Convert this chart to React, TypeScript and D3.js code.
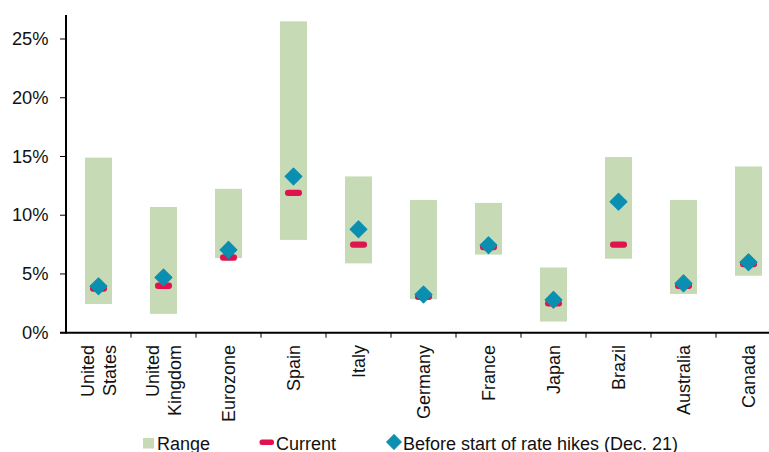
import React from "react";
import * as d3 from "d3";

const categories = [
  "United States", "United Kingdom", "Eurozone", "Spain", "Italy", "Germany",
  "France", "Japan", "Brazil", "Australia", "Canada",
];
const rangeLow = [2.45, 1.6, 6.35, 7.9, 5.9, 2.85, 6.65, 0.95, 6.3, 3.3, 4.85];
const rangeHigh = [14.9, 10.7, 12.25, 26.5, 13.3, 11.3, 11.05, 5.55, 14.95, 11.3, 14.15];
const current = [3.75, 4.0, 6.4, 11.9, 7.5, 3.05, 7.3, 2.5, 7.5, 4.0, 5.85];
const beforeHikes = [3.95, 4.7, 7.05, 13.3, 8.8, 3.25, 7.45, 2.8, 11.15, 4.2, 6.0];
const yTicks = [0, 5, 10, 15, 20, 25];
const legendLabels = ["Range", "Current", "Before start of rate hikes (Dec. 21)"];

const W = 769;
const H = 452;
const GREEN = "#c5dab5";
const RED = "#e0134f";
const TEAL = "#0b8fb0";
const FONT = "'Liberation Sans', Arial, sans-serif";

export default function App() {
  const pad = 1 - 27 / 65;
  const x = d3
    .scaleBand<string>()
    .domain(categories)
    .range([66, 781])
    .paddingInner(pad)
    .paddingOuter(pad / 2);
  const y = d3.scaleLinear().domain([0, 27]).range([332.7, 15.5]);
  const step = x.step();
  const bw = x.bandwidth();
  const diamond = d3.symbol().type(d3.symbolSquare).size(140)()!;
  const legDiamond = d3.symbol().type(d3.symbolSquare).size(110)()!;

  return (
    <svg
      width={W}
      height={H}
      style={{ position: "absolute", left: 0, top: 0, background: "#fff" }}
      fontFamily={FONT}
    >
      {/* bars */}
      {categories.map((c, i) => (
        <rect
          key={"r" + c}
          x={x(c)!}
          y={y(rangeHigh[i])}
          width={bw}
          height={y(rangeLow[i]) - y(rangeHigh[i])}
          fill={GREEN}
        />
      ))}
      {categories.map((c, i) => (
        <rect
          key={"c" + c}
          x={x(c)! + bw / 2 - 8.5}
          y={y(current[i]) - 3.2}
          width={17}
          height={6.4}
          rx={3}
          fill={RED}
        />
      ))}
      {categories.map((c, i) => (
        <path
          key={"d" + c}
          d={diamond}
          transform={`translate(${x(c)! + bw / 2},${y(beforeHikes[i])}) rotate(45)`}
          fill={TEAL}
          stroke={TEAL}
          strokeWidth={1.2}
          strokeLinejoin="round"
        />
      ))}

      {/* y axis */}
      <line x1={66} x2={66} y1={15} y2={333.5} stroke="#000" strokeWidth={2} />
      {yTicks.map((t) => (
        <g key={"yt" + t}>
          <line x1={60} x2={66} y1={y(t)} y2={y(t)} stroke="#000" strokeWidth={1} />
          <text
            x={48.5}
            y={y(t)}
            dy="0.33em"
            textAnchor="end"
            fontSize={18.3}
            fill="#111"
          >
            {t + "%"}
          </text>
        </g>
      ))}

      {/* x axis */}
      <line x1={60} x2={781} y1={y(0)} y2={y(0)} stroke="#000" strokeWidth={2} />
      {categories.map((c, i) => {
        const bx = 66 + step * (i + 1);
        return (
          <line key={"xt" + c} x1={bx} x2={bx} y1={y(0)} y2={y(0) + 5} stroke="#000" strokeWidth={1} />
        );
      })}
      {categories.map((c) => {
        const cx = x(c)! + bw / 2;
        const words = c.split(" ");
        const lh = 22.5;
        const n = words.length;
        return (
          <text
            key={"xl" + c}
            transform={`translate(${cx},345) rotate(-90)`}
            textAnchor="end"
            fontSize={18}
            fill="#111"
          >
            {words.map((w, k) => (
              <tspan key={k} x={0} y={(k - (n - 1) / 2) * lh} dy="0.35em">
                {w}
              </tspan>
            ))}
          </text>
        );
      })}

      {/* legend */}
      <rect x={143} y={438} width={11} height={10.5} fill={GREEN} />
      <text x={157} y={449.5} fontSize={18} fill="#111">{legendLabels[0]}</text>
      <rect x={259.5} y={439.5} width={14.5} height={5.5} rx={2.5} fill={RED} />
      <text x={276} y={449.5} fontSize={18} fill="#111">{legendLabels[1]}</text>
      <path
        d={legDiamond}
        transform={`translate(394,442) rotate(45)`}
        fill={TEAL}
        stroke={TEAL}
        strokeWidth={1}
        strokeLinejoin="round"
      />
      <text x={403} y={449.5} fontSize={18} fill="#111">{legendLabels[2]}</text>
    </svg>
  );
}
